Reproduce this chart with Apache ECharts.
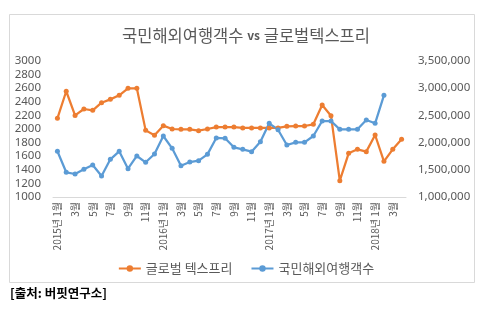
<!DOCTYPE html>
<html><head><meta charset="utf-8">
<script src="https://cdn.jsdelivr.net/npm/echarts@6/dist/echarts.min.js"></script>
<style>html,body{margin:0;padding:0;background:#fff}#c{width:492px;height:321px}</style>
</head><body><div id="c"></div>
<script>
const categories = [
  "2015년 1월","2월","3월","4월","5월","6월","7월","8월","9월","10월","11월","12월",
  "2016년 1월","2월","3월","4월","5월","6월","7월","8월","9월","10월","11월","12월",
  "2017년 1월","2월","3월","4월","5월","6월","7월","8월","9월","10월","11월","12월",
  "2018년 1월","2월","3월","4월"
];
const globalTaxFree = [
  2157,2555,2200,2294,2275,2387,2436,2495,2598,2598,1980,1907,
  2049,2000,1995,1995,1975,2000,2029,2029,2029,2015,2015,2015,
  2015,2015,2039,2044,2044,2069,2353,2196,1240,1642,1701,1667,
  1912,1525,1701,1848
];
const outboundTravelers = [
  1840000,1454000,1423000,1509000,1588000,1386000,1693000,1840000,1520000,1754000,1638000,1790000,
  2121000,1895000,1576000,1643000,1668000,1784000,2085000,2079000,1913000,1876000,1833000,2017000,
  2355000,2237000,1956000,2005000,2005000,2121000,2397000,2397000,2244000,2244000,2244000,2415000,
  2355000,2869000
];
const leftTicks = {min:1000, max:3000, interval:200};
const rightTicks = {min:1000000, max:3500000, interval:500000};

const chart = echarts.init(document.getElementById('c'), null, {renderer:'canvas'});
const txt = '#595959';
const kr = '"Noto Sans CJK KR", sans-serif';
chart.setOption({
  animation:false,
  backgroundColor:'#fff',
  graphic:[
    {type:'rect', shape:{x:9.5,y:14.5,width:465,height:268}, style:{fill:'none',stroke:'#d9d9d9',lineWidth:1}},
    {type:'text', left:10, top:287, style:{text:'[출처: 버핏연구소]', fill:'#000', font:'bold 12.5px "Noto Sans CJK KR", sans-serif'}}
  ],
  title:{
    text:'{a|국민해외여행객수 }{b|vs}{a| 글로벌텍스프리}',
    left:'center', top:22,
    textStyle:{fontWeight:'normal', rich:{
      a:{fontSize:16.5, color:txt, fontWeight:'normal', fontFamily:kr},
      b:{fontSize:12, color:txt, fontWeight:'bold', fontFamily:kr}
    }}
  },
  legend:{
    top:257, left:'center', itemWidth:22, itemHeight:8, itemGap:18,
    textStyle:{fontSize:13, color:txt, fontFamily:kr},
    data:['글로벌 텍스프리','국민해외여행객수']
  },
  grid:{left:53, right:86, top:61, bottom:124, containLabel:false},
  xAxis:{
    type:'category', data:categories, boundaryGap:true,
    axisLine:{lineStyle:{color:'#d9d9d9'}}, axisTick:{show:false},
    axisLabel:{interval:1, rotate:90, fontSize:10, color:txt, margin:5, fontFamily:kr}
  },
  yAxis:[
    {type:'value', min:leftTicks.min, max:leftTicks.max, interval:leftTicks.interval,
     splitLine:{show:false}, axisLine:{show:false}, axisTick:{show:false},
     axisLabel:{fontSize:11.5, color:txt, margin:12, fontFamily:'"Noto Sans", sans-serif',
       formatter:v=>String(v)}},
    {type:'value', min:rightTicks.min, max:rightTicks.max, interval:rightTicks.interval,
     splitLine:{show:false}, axisLine:{show:false}, axisTick:{show:false},
     axisLabel:{fontSize:11.5, color:txt, margin:12, fontFamily:'"Noto Sans", sans-serif',
       formatter:v=>v.toLocaleString('en-US')}}
  ],
  series:[
    {name:'글로벌 텍스프리', type:'line', yAxisIndex:0, data:globalTaxFree,
     symbol:'circle', symbolSize:5, color:'#ED7D31', lineStyle:{width:2.25,color:'#ED7D31'},
     itemStyle:{color:'#ED7D31'}},
    {name:'국민해외여행객수', type:'line', yAxisIndex:1, data:outboundTravelers,
     symbol:'circle', symbolSize:5, color:'#5B9BD5', lineStyle:{width:2.25,color:'#5B9BD5'},
     itemStyle:{color:'#5B9BD5'}}
  ]
});
</script></body></html>
